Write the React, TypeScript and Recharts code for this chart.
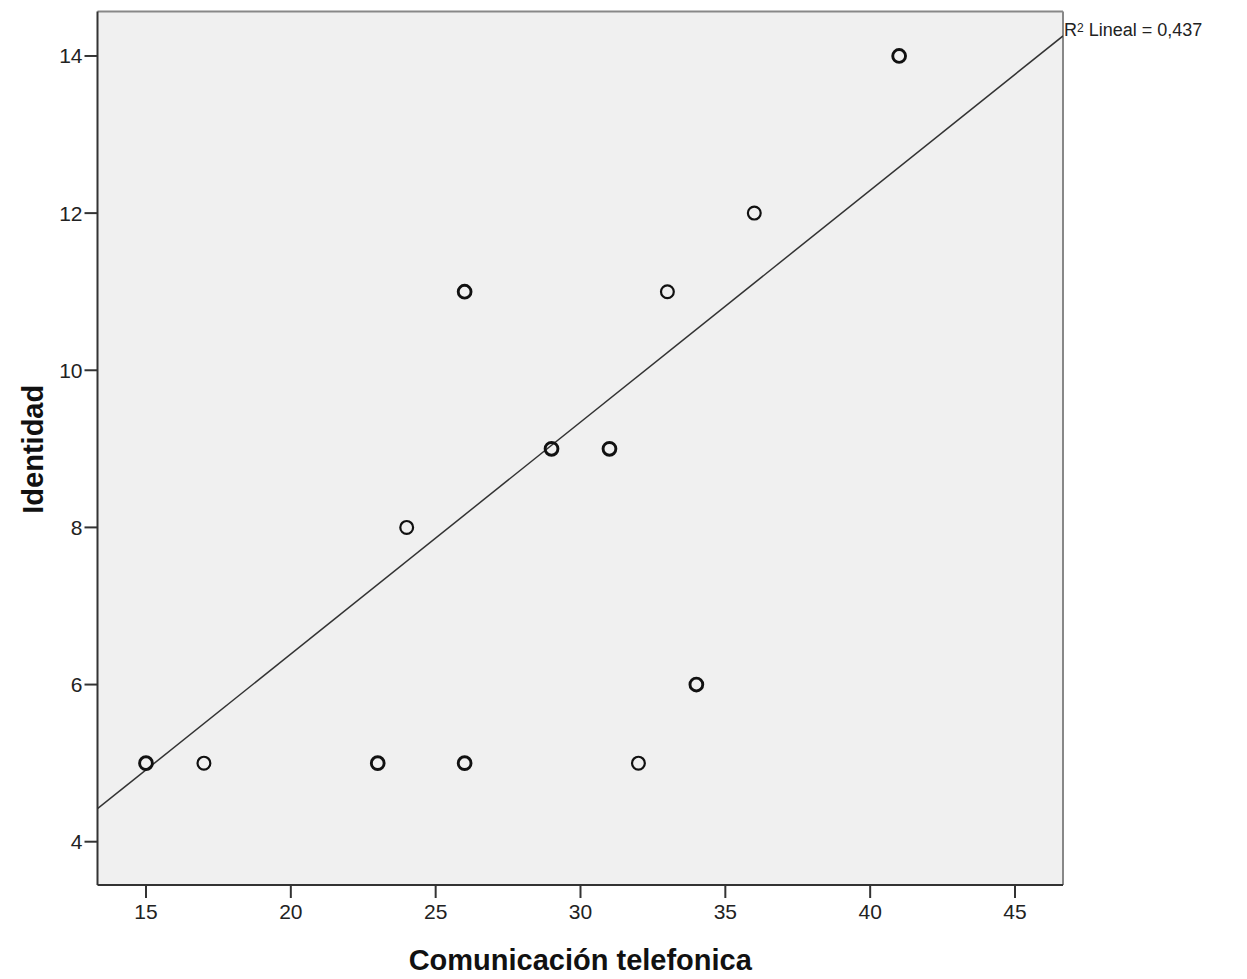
import { ScatterChart, Scatter, XAxis, YAxis, CartesianGrid, ReferenceLine } from 'recharts'

// puntos observados (n = casos superpuestos en el mismo punto)
const comunicacion = [15, 17, 23, 26, 32, 34, 24, 29, 31, 26, 33, 36, 41]
const identidad = [5, 5, 5, 5, 5, 6, 8, 9, 9, 11, 11, 12, 14]
const casos = [2, 1, 2, 2, 1, 2, 1, 2, 2, 2, 1, 1, 2]

const ajusteX = [13.326, 46.657]
const ajusteY = [4.42, 14.255]

const xTicks = [15, 20, 25, 30, 35, 40, 45]
const yTicks = [4, 6, 8, 10, 12, 14]
const xDomain = [13.326, 46.657]
const yDomain = [3.449, 14.566]

const puntos = comunicacion.map((x, i) => ({ x, y: identidad[i], n: casos[i] }))
const ajuste = ajusteX.map((x, i) => ({ x, y: ajusteY[i] }))

const FONT = 'Arial, "Liberation Sans", sans-serif'
const tickStyle = { fill: '#222', fontSize: 21, fontFamily: FONT }

const Circulo = ({ cx, cy, payload }: any) => (
  <circle cx={cx} cy={cy} r={6.4} fill="none" stroke="#111" strokeWidth={payload.n > 1 ? 2.9 : 2.2} />
)

const TituloY = ({ viewBox }: any) => {
  const x = viewBox.x + 35
  const y = viewBox.y + viewBox.height / 2 + 1
  return (
    <text x={x} y={y} transform={`rotate(-90 ${x} ${y})`} textAnchor="middle"
      fontFamily={FONT} fontSize={29} fontWeight="bold" fill="#111">
      Identidad
    </text>
  )
}

const TituloX = ({ viewBox }: any) => (
  <text x={viewBox.x + viewBox.width / 2} y={970} textAnchor="middle"
    fontFamily={FONT} fontSize={29} fontWeight="bold" fill="#111">
    Comunicación telefonica
  </text>
)

export default function App() {
  return (
    <div style={{ position: 'absolute', left: 0, top: 0, width: 1247, height: 979, background: '#fff' }}>
      <ScatterChart width={1247} height={979} margin={{ top: 11.5, right: 184, bottom: 4, left: 7.5 }}>
        <CartesianGrid fill="#f0f0f0" horizontal={false} vertical={false} />
        <XAxis
          type="number"
          dataKey="x"
          domain={xDomain}
          ticks={xTicks}
          allowDataOverflow
          height={90}
          tick={tickStyle}
          tickSize={13}
          tickMargin={6}
          axisLine={{ stroke: '#333', strokeWidth: 2 }}
          tickLine={{ stroke: '#333', strokeWidth: 2 }}
          label={<TituloX />}
        />
        <YAxis
          type="number"
          dataKey="y"
          domain={yDomain}
          ticks={yTicks}
          allowDataOverflow
          width={90}
          tick={tickStyle}
          tickSize={13}
          tickMargin={2}
          axisLine={{ stroke: '#333', strokeWidth: 2 }}
          tickLine={{ stroke: '#333', strokeWidth: 2 }}
          label={<TituloY />}
        />
        <ReferenceLine y={yDomain[1]} stroke="#888" strokeWidth={2} />
        <ReferenceLine x={xDomain[1]} stroke="#888" strokeWidth={2} />
        <Scatter
          data={ajuste}
          line={{ stroke: '#333', strokeWidth: 1.5 }}
          shape={() => <g />}
          isAnimationActive={false}
        />
        <Scatter data={puntos} shape={<Circulo />} isAnimationActive={false} />
      </ScatterChart>
      <div style={{ position: 'absolute', left: 1064, top: 19, fontFamily: FONT, fontSize: 18, lineHeight: '22px', color: '#222', whiteSpace: 'nowrap' }}>
        R<sup style={{ fontSize: 12, verticalAlign: 'top', position: 'relative', top: -2 }}>2</sup> Lineal = 0,437
      </div>
    </div>
  )
}
